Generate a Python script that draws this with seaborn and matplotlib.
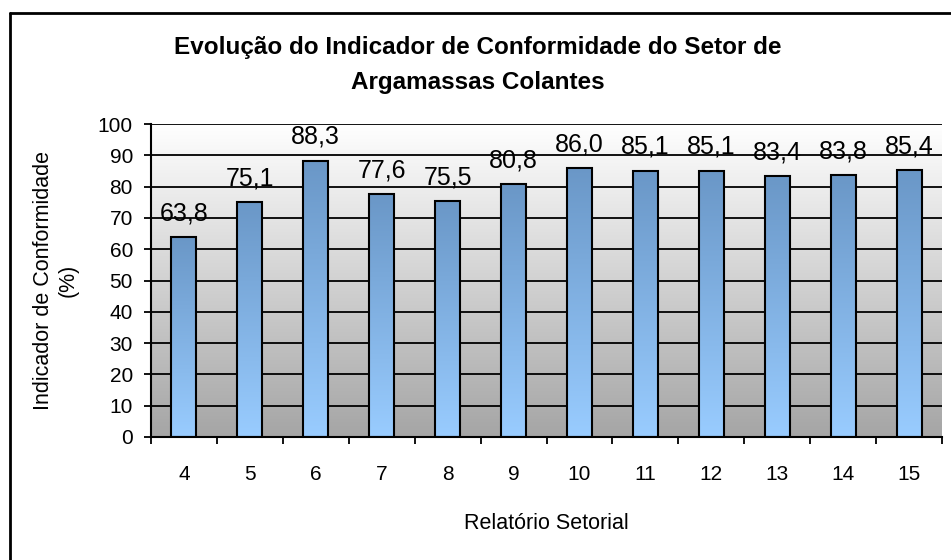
import numpy as np
import pandas as pd
import matplotlib
matplotlib.use("Agg")
import matplotlib.pyplot as plt
import seaborn as sns
from matplotlib.colors import LinearSegmentedColormap
from matplotlib.lines import Line2D

# dados
relatorios = ["4", "5", "6", "7", "8", "9", "10", "11", "12", "13", "14", "15"]
indicador = [63.8, 75.1, 88.3, 77.6, 75.5, 80.8, 86.0, 85.1, 85.1, 83.4, 83.8, 85.4]
y_ticks = [0, 10, 20, 30, 40, 50, 60, 70, 80, 90, 100]

titulo = "Evolução do Indicador de Conformidade do Setor de\nArgamassas Colantes"
rotulo_x = "Relatório Setorial"
rotulo_y = "Indicador de Conformidade\n(%)"


def main():
    df = pd.DataFrame({"Relatorio": relatorios, "Indicador": indicador})

    sns.set_theme(style="white")
    plt.rcParams["font.family"] = ["Liberation Sans", "DejaVu Sans"]
    plt.rcParams["text.color"] = "black"
    plt.rcParams["axes.labelcolor"] = "black"
    plt.rcParams["xtick.color"] = "black"
    plt.rcParams["ytick.color"] = "black"

    fig = plt.figure(figsize=(9.51, 5.6), dpi=100)
    ax = fig.add_axes([151 / 951, 123 / 560, (942 - 151) / 951, (437 - 124) / 560])

    sns.barplot(data=df, x="Relatorio", y="Indicador", ax=ax, width=0.38,
                facecolor="none", edgecolor="black", linewidth=1.5, zorder=3)

    n = len(relatorios)
    ax.set_xlim(-0.5, n - 0.5)
    ax.set_ylim(0, 100)

    # fundo em degradê (cinza embaixo, branco em cima)
    bg = LinearSegmentedColormap.from_list("bg", ["#A5A5A5", "#FFFFFF"])
    grad = np.linspace(0, 1, 256).reshape(-1, 1)
    ax.imshow(grad, cmap=bg, aspect="auto", origin="lower",
              extent=[-0.5, n - 0.5, 0, 100], zorder=0)

    # barras em degradê azul
    barcm = LinearSegmentedColormap.from_list("bar", ["#99CCFF", "#6A97C7"])
    for p in ax.patches:
        x0, w, h = p.get_x(), p.get_width(), p.get_height()
        im = ax.imshow(grad, cmap=barcm, aspect="auto", origin="lower",
                       extent=[x0, x0 + w, 0, h], zorder=2)
        im.set_clip_path(p)

    # grade
    for t in y_ticks[1:]:
        ax.axhline(t, color="black", lw=1.3, zorder=1)

    # rótulos de dados
    for i, v in enumerate(indicador):
        ax.annotate(f"{v:.1f}".replace(".", ","), (i, v), xytext=(0, 12),
                    textcoords="offset points", ha="center", va="baseline",
                    fontsize=18, zorder=4)

    ax.set_yticks(y_ticks)
    ax.set_xticks(np.arange(n))
    ax.set_xticks(np.arange(n + 1) - 0.5, minor=True)
    ax.tick_params(axis="x", which="major", length=0, labelsize=15, pad=20)
    ax.tick_params(axis="x", which="minor", length=5, width=1.3, color="black",
                   direction="out", bottom=True)
    ax.tick_params(axis="y", length=5, width=1.3, color="black", direction="out",
                   left=True, labelsize=15, pad=8)

    for s in ["top", "right"]:
        ax.spines[s].set_visible(False)
    for s in ["left", "bottom"]:
        ax.spines[s].set_color("black")
        ax.spines[s].set_linewidth(1.5)
        ax.spines[s].set_zorder(5)

    ax.set_xlabel(rotulo_x, fontsize=15.5, labelpad=21)
    ax.set_ylabel(rotulo_y, fontsize=15.5, labelpad=14, linespacing=1.2)

    fig.text(0.5025, 1 - 65 / 560, titulo, ha="center", va="center",
             fontsize=17.5, fontweight="bold", linespacing=1.62)

    # moldura externa (só esquerda e topo aparecem)
    fig.add_artist(Line2D([9.5 / 951, 9.5 / 951], [0, 1 - 13 / 560],
                          color="black", lw=2, transform=fig.transFigure))
    fig.add_artist(Line2D([9.5 / 951, 1], [1 - 13 / 560, 1 - 13 / 560],
                          color="black", lw=2, transform=fig.transFigure))

    fig.savefig("out.png", dpi=100, facecolor="white")


if __name__ == "__main__":
    main()
